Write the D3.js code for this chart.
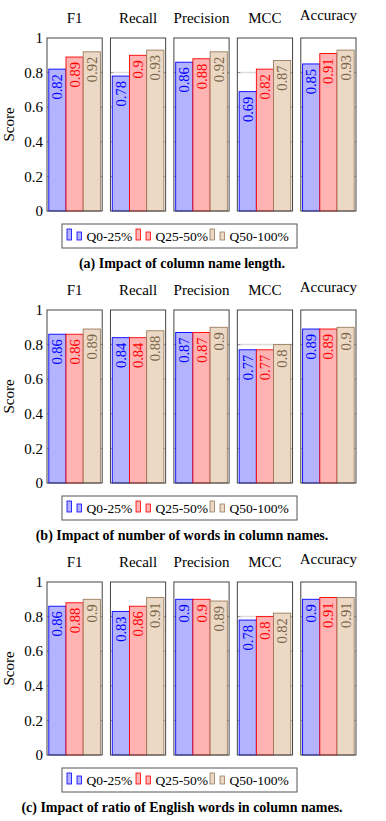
<!DOCTYPE html>
<html>
<head>
<meta charset="utf-8">
<script src="https://cdn.jsdelivr.net/npm/d3@7"></script>
<style>
  body { margin: 0; background: #fff; }
</style>
</head>
<body>
<svg id="chart" width="386" height="821"></svg>
<script>
// chart values
var metrics = ["F1", "Recall", "Precision", "MCC", "Accuracy"];
var groups = ["Q0-25%", "Q25-50%", "Q50-100%"];
var yTicks = [0, 0.2, 0.4, 0.6, 0.8, 1];
var captions = [
  "(a) Impact of column name length.",
  "(b) Impact of number of words in column names.",
  "(c) Impact of ratio of English words in column names."
];
// one row per metric, one value per group
var nameLengthScores = [[0.82, 0.89, 0.92], [0.78, 0.9, 0.93], [0.86, 0.88, 0.92], [0.69, 0.82, 0.87], [0.85, 0.91, 0.93]];
var wordCountScores  = [[0.86, 0.86, 0.89], [0.84, 0.84, 0.88], [0.87, 0.87, 0.9], [0.77, 0.77, 0.8], [0.89, 0.89, 0.9]];
var englishScores    = [[0.86, 0.88, 0.9], [0.83, 0.86, 0.91], [0.9, 0.9, 0.89], [0.78, 0.8, 0.82], [0.9, 0.91, 0.91]];
var panels = [nameLengthScores, wordCountScores, englishScores];

var fills   = ["#b3b3ff", "#ffb3b3", "#ebd9c6"];
var strokes = ["#0000ff", "#ff0000", "#9a7c5c"];
var labelColors = ["#0000ff", "#ff0000", "#7d6548"];
var serif = "'Liberation Serif', 'DejaVu Serif', serif";

var svg = d3.select("#chart");
var frameTops = [38, 310, 582];
var frameH = 173;

var xPanel = d3.scaleBand().domain(metrics).range([47, 356]).paddingInner(0.13);

function drawPanel(scores, p) {
  var top = frameTops[p];
  var g = svg.append("g").attr("class", "panel");
  var y = d3.scaleLinear().domain([0, 1]).range([top + frameH, top]);

  // y tick labels + axis title, only on the first subplot
  g.selectAll("text.ytick").data(yTicks).enter().append("text")
    .attr("class", "ytick")
    .attr("x", 43)
    .attr("y", function(d) { return y(d); })
    .attr("dy", "0.34em")
    .attr("text-anchor", "end")
    .style("font-family", serif)
    .style("font-size", "15px")
    .text(function(d) { return String(d); });
  g.append("text")
    .attr("transform", "translate(14," + (top + frameH / 2) + ") rotate(-90)")
    .attr("text-anchor", "middle")
    .style("font-family", serif)
    .style("font-size", "15px")
    .text("Score");

  metrics.forEach(function(m, i) {
    var x0 = xPanel(m), w = xPanel.bandwidth();
    var sub = g.append("g");
    var xb = d3.scaleBand().domain(groups).range([x0 + 1.8, x0 + w - 1.8]);

    // title (lifted when it has a descender, like pgfplots anchor=south)
    sub.append("text")
      .attr("x", x0 + w / 2)
      .attr("y", top - (/[gjpqy]/.test(m) ? 18.5 : 15))
      .attr("text-anchor", "middle")
      .style("font-family", serif)
      .style("font-size", "15px")
      .text(m);

    // light reference line at 0.8
    sub.append("line")
      .attr("x1", x0).attr("x2", x0 + w)
      .attr("y1", y(0.8)).attr("y2", y(0.8))
      .style("stroke", "#dcdcdc").style("stroke-width", 1.5);

    // inward ticks on both sides
    yTicks.slice(1, 5).forEach(function(t) {
      sub.append("line").attr("x1", x0).attr("x2", x0 + 3)
        .attr("y1", y(t)).attr("y2", y(t)).style("stroke", "#888").style("stroke-width", 0.8);
      sub.append("line").attr("x1", x0 + w - 3).attr("x2", x0 + w)
        .attr("y1", y(t)).attr("y2", y(t)).style("stroke", "#888").style("stroke-width", 0.8);
    });

    sub.selectAll("rect.bar").data(scores[i]).enter().append("rect")
      .attr("class", "bar")
      .attr("x", function(d, k) { return xb(groups[k]); })
      .attr("width", xb.bandwidth())
      .attr("y", function(d) { return y(d); })
      .attr("height", function(d) { return y(0) - y(d); })
      .style("fill", function(d, k) { return fills[k]; })
      .style("stroke", function(d, k) { return strokes[k]; })
      .style("stroke-width", 0.9);

    sub.selectAll("text.val").data(scores[i]).enter().append("text")
      .attr("class", "val")
      .attr("transform", function(d, k) {
        return "translate(" + (xb(groups[k]) + xb.bandwidth() / 2) + "," + (y(d) + 5) + ") rotate(-90)";
      })
      .attr("text-anchor", "end")
      .attr("dy", "0.35em")
      .style("font-family", serif)
      .style("font-size", "14.5px")
      .style("fill", function(d, k) { return labelColors[k]; })
      .text(function(d) { return String(d); });

    sub.append("rect")
      .attr("x", x0).attr("y", top)
      .attr("width", w).attr("height", frameH)
      .style("fill", "none").style("stroke", "#444").style("stroke-width", 1);
  });

  // legend
  var ly = top + 186;
  var lg = g.append("g");
  lg.append("rect")
    .attr("x", 62).attr("y", ly).attr("width", 235).attr("height", 24)
    .style("fill", "#fff").style("stroke", "#555").style("stroke-width", 1);
  var entryX = [67, 136, 210];
  groups.forEach(function(name, k) {
    var ex = entryX[k];
    lg.append("rect").attr("x", ex).attr("y", ly + 5).attr("width", 4.5).attr("height", 11)
      .style("fill", fills[k]).style("stroke", strokes[k]).style("stroke-width", 0.8);
    lg.append("rect").attr("x", ex + 10).attr("y", ly + 8).attr("width", 4.5).attr("height", 8)
      .style("fill", fills[k]).style("stroke", strokes[k]).style("stroke-width", 0.8);
    lg.append("text")
      .attr("x", ex + 19.5).attr("y", ly + 17)
      .style("font-family", serif)
      .style("font-size", "13.5px")
      .text(name);
  });

  svg.append("text")
    .attr("x", 182).attr("y", top + 230)
    .attr("text-anchor", "middle")
    .style("font-family", serif)
    .style("font-size", "14px")
    .style("font-weight", "bold")
    .text(captions[p]);
}

panels.forEach(function(scores, p) { drawPanel(scores, p); });
</script>
</body>
</html>
